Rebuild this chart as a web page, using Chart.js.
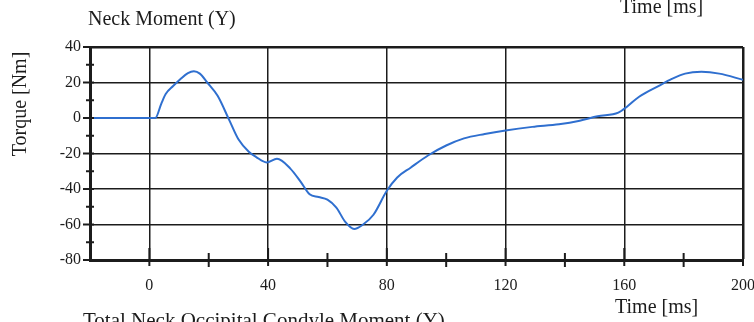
<!DOCTYPE html>
<html>
<head>
<meta charset="utf-8">
<script src="https://cdn.jsdelivr.net/npm/chart.js@4/dist/chart.umd.min.js"></script>
<style>
  html, body { margin: 0; padding: 0; background: #ffffff; }
  #wrap { width: 754px; height: 322px; position: relative; }
</style>
</head>
<body>
<div id="wrap"><canvas id="neckChart" width="754" height="322"></canvas></div>
<script>
// Neck moment (Y) trace
const timeMs = [-20, 0, 2, 4, 5.5, 8, 10.5, 13, 15, 17, 19.5, 23, 27, 30, 33.5, 36, 39.5, 43,
  47.5, 51, 54, 57, 60, 63, 66, 69, 72, 75.5, 80, 83.5, 88, 94, 100, 106, 113, 120, 129,
  138, 145, 151, 158, 161, 165, 171.5, 176, 180.5, 186, 192, 200];
const torqueNm = [0, 0, 0, 8, 13.5, 18, 22, 25.3, 26.3, 25, 20, 12.5, -1.5, -12, -19, -22, -25, -23,
  -28.5, -36, -43, -44.5, -46, -50.5, -58.5, -62.5, -60, -54.5, -41, -33.5, -28, -21, -15.5, -11.5, -9, -7, -5,
  -3.5, -1.5, 1, 3, 6.5, 12, 18, 22, 25, 26, 25, 21.5];

const yTicks = [-80, -60, -40, -20, 0, 20, 40];
const xTicks = [0, 40, 80, 120, 160, 200];

const SERIF = '"Liberation Serif", "DejaVu Serif", serif';
const INK = '#1c1c1c';

// Tick marks crossing the axes and the loose text around the plot
const scanDecor = {
  id: 'scanDecor',
  afterDraw(chart) {
    const { ctx, chartArea, scales } = chart;
    const x = scales.x, y = scales.y;
    ctx.save();
    ctx.strokeStyle = INK;
    ctx.lineWidth = 2;

    // y axis: every 10 units
    for (let v = -80; v <= 40; v += 10) {
      const py = y.getPixelForValue(v);
      const major = v % 20 === 0;
      ctx.beginPath();
      ctx.moveTo(chartArea.left - (major ? 7 : 4), py);
      ctx.lineTo(chartArea.left + 4, py);
      ctx.stroke();
    }
    // x axis: every 20 ms
    for (let v = 0; v <= 200; v += 20) {
      const px = x.getPixelForValue(v);
      const major = v % 40 === 0;
      ctx.beginPath();
      ctx.moveTo(px, chartArea.bottom - (major ? 12 : 7));
      ctx.lineTo(px, chartArea.bottom + (major ? 6 : 7));
      ctx.stroke();
    }

    ctx.fillStyle = INK;
    ctx.textBaseline = 'alphabetic';
    ctx.font = '20px ' + SERIF;
    ctx.textAlign = 'left';
    ctx.fillText('Neck Moment (Y)', 88, 25);
    ctx.fillText('Time [ms]', 620, 13);
    ctx.fillText('Time [ms]', 615, 313);
    ctx.font = '21px ' + SERIF;
    ctx.fillText('Total Neck Occipital Condyle Moment (Y)', 83, 327);

    ctx.translate(26, 104);
    ctx.rotate(-Math.PI / 2);
    ctx.textAlign = 'center';
    ctx.font = '20px ' + SERIF;
    ctx.fillText('Torque [Nm]', 0, 0);
    ctx.restore();
  }
};

new Chart(document.getElementById('neckChart'), {
  type: 'line',
  data: {
    datasets: [{
      data: timeMs.map((t, i) => ({ x: t, y: torqueNm[i] })),
      borderColor: '#2f6fcf',
      borderWidth: 2,
      pointRadius: 0,
      cubicInterpolationMode: 'monotone',
      fill: false
    }]
  },
  options: {
    responsive: false,
    animation: false,
    layout: { padding: { left: 0, top: 47, right: 11, bottom: 0 } },
    plugins: { legend: { display: false }, tooltip: { enabled: false } },
    scales: {
      x: {
        type: 'linear',
        min: -20,
        max: 200,
        afterFit(scale) {
          scale.height = 62;
          scale.paddingLeft = 0;
          scale.paddingRight = 0;
        },
        afterBuildTicks(scale) {
          scale.ticks = [-20].concat(xTicks).map(v => ({ value: v }));
        },
        ticks: {
          padding: 16,
          maxRotation: 0,
          color: INK,
          font: { family: SERIF, size: 16 },
          callback: v => (xTicks.includes(v) ? String(v) : '')
        },
        grid: {
          drawTicks: false,
          color: ctx => (ctx.tick && ctx.tick.value === -20 ? 'rgba(0,0,0,0)' : INK),
          lineWidth: ctx => (ctx.tick && ctx.tick.value === 200 ? 2.5 : 1.5)
        },
        border: { display: true, color: INK, width: 3 }
      },
      y: {
        min: -80,
        max: 40,
        afterFit(scale) {
          scale.width = 90;
          scale.paddingTop = 0;
          scale.paddingBottom = 0;
        },
        afterBuildTicks(scale) {
          scale.ticks = yTicks.map(v => ({ value: v }));
        },
        ticks: {
          padding: 9,
          color: INK,
          font: { family: SERIF, size: 16 },
          callback: v => String(v)
        },
        grid: {
          drawTicks: false,
          color: INK,
          lineWidth: ctx => (ctx.tick && (ctx.tick.value === 40 || ctx.tick.value === -80) ? 2.5 : 1.5)
        },
        border: { display: true, color: INK, width: 3 }
      }
    }
  },
  plugins: [scanDecor]
});
</script>
</body>
</html>
